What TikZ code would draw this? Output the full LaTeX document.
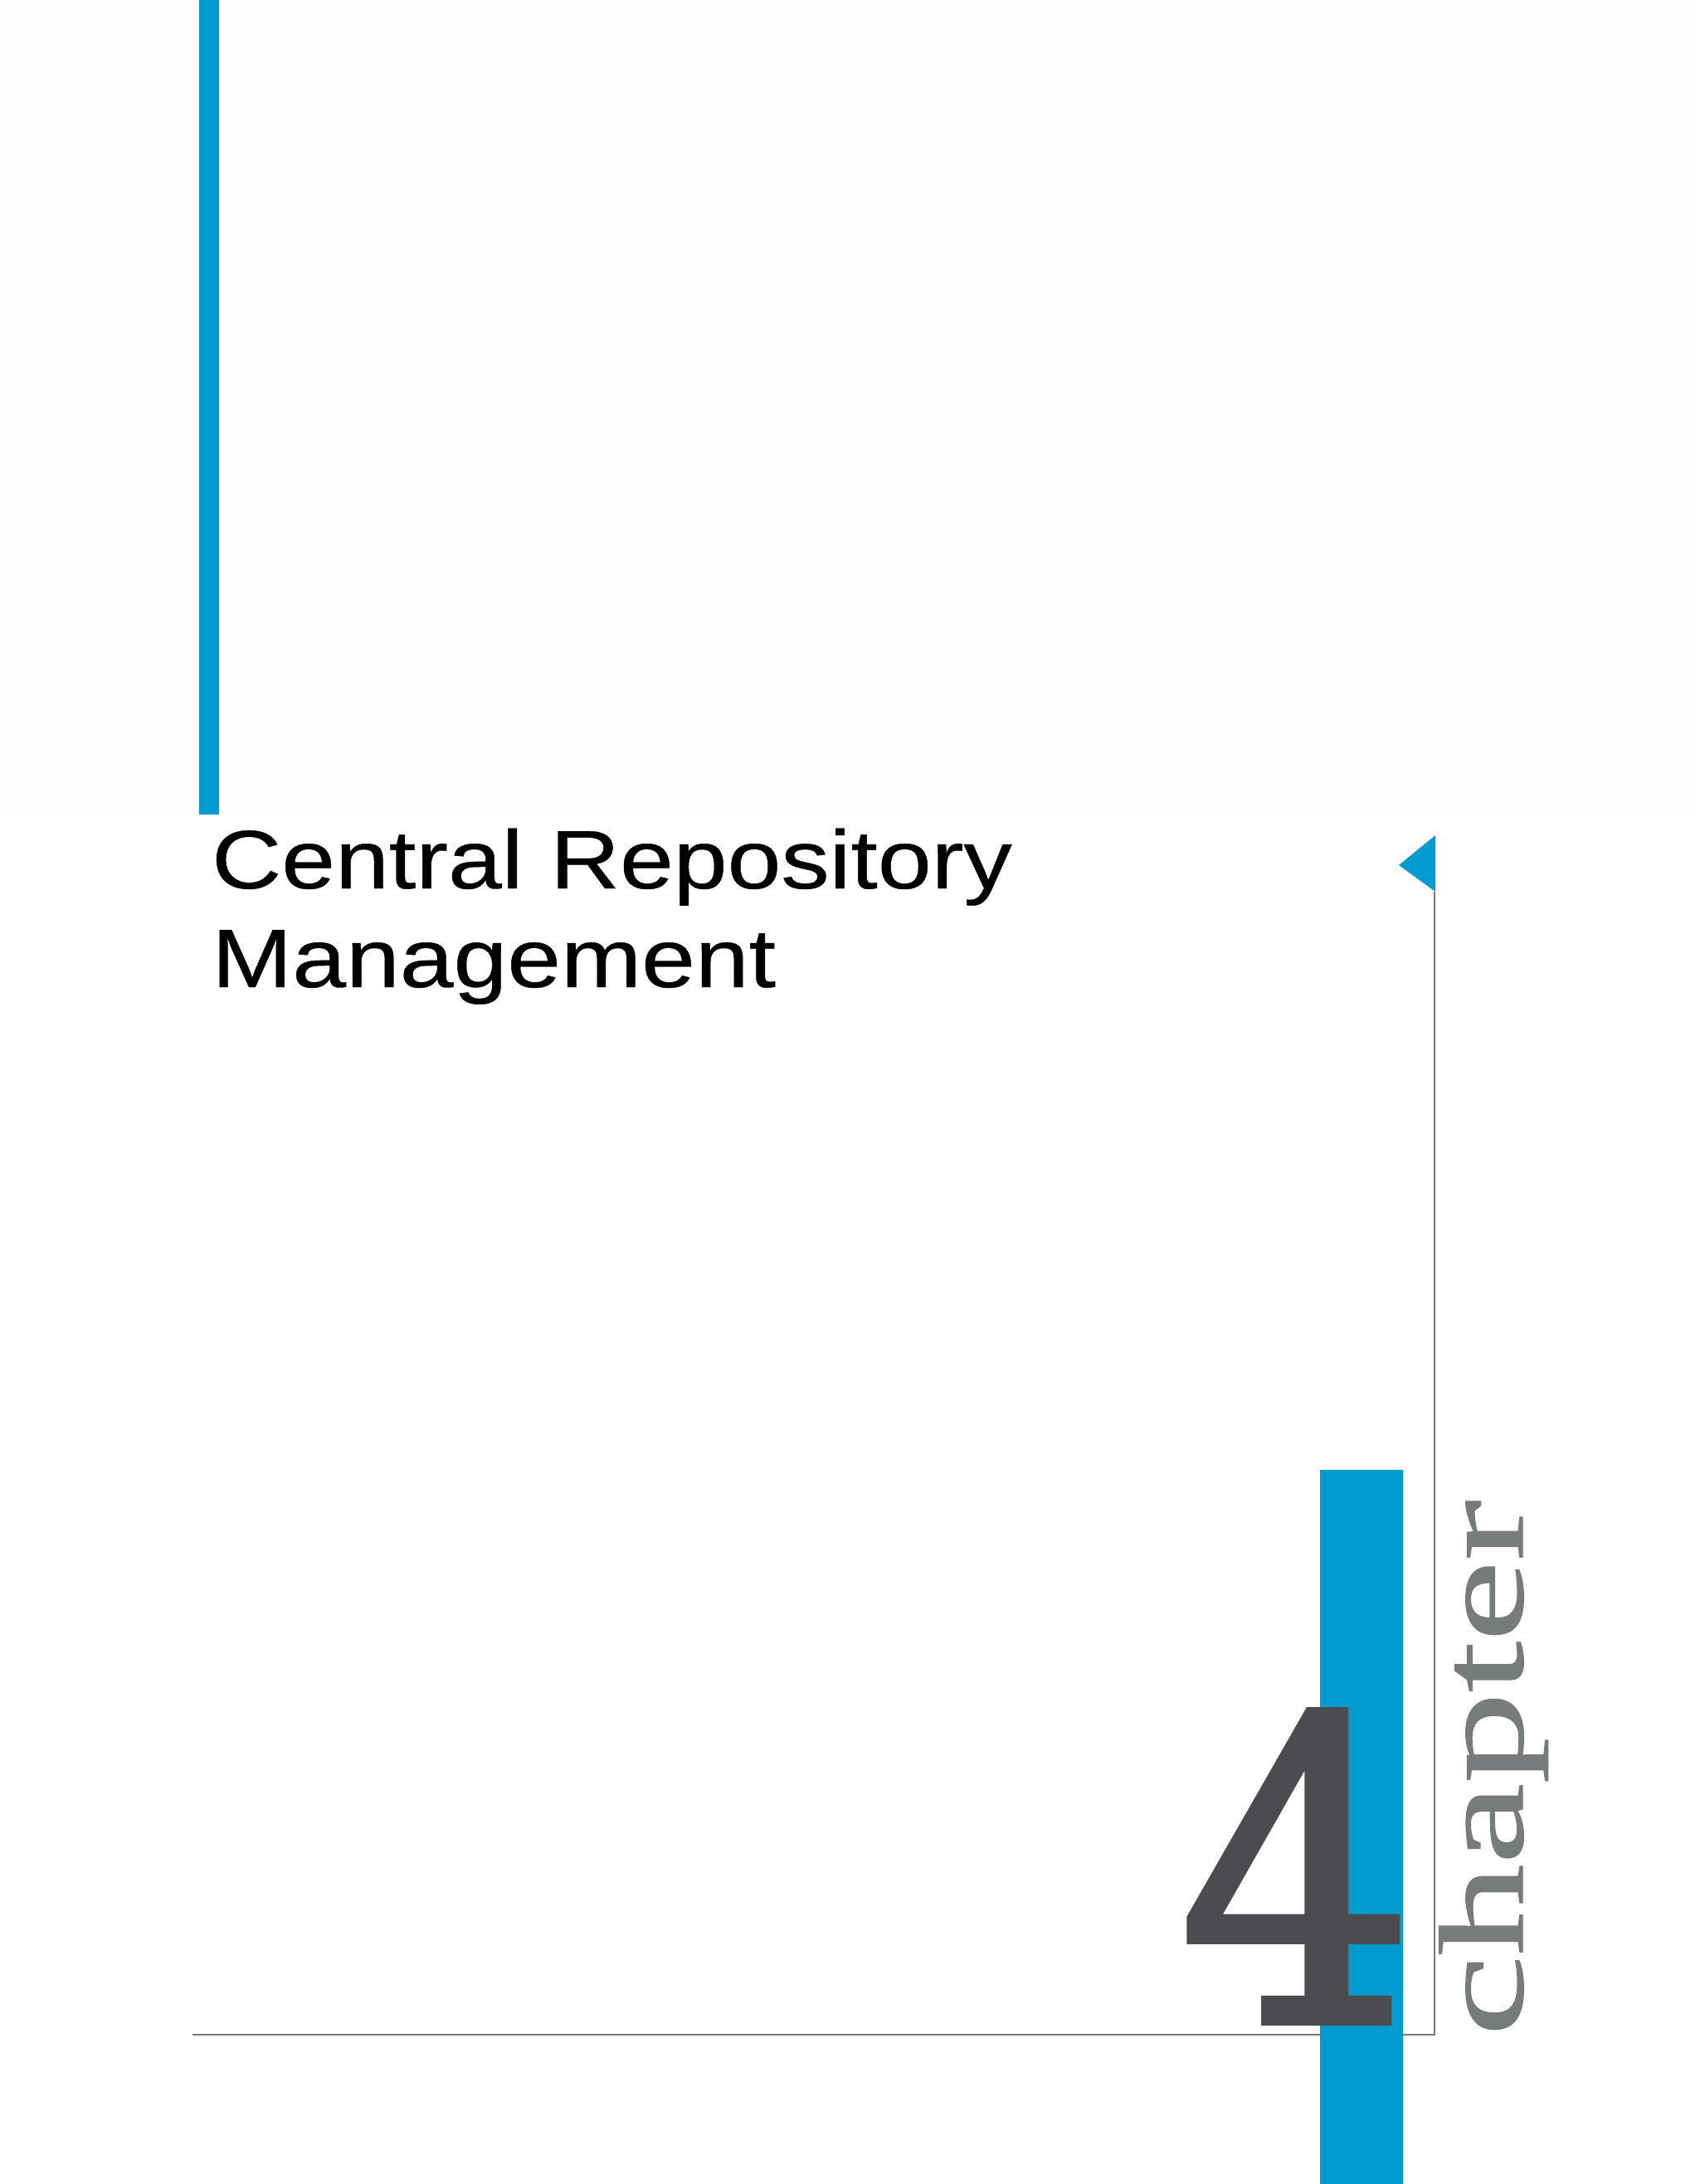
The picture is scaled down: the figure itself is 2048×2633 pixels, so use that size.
\documentclass[tikz,border=0pt]{standalone}
\usepackage{fontspec}
\usepackage{graphicx}
\setmainfont{Liberation Sans}[FakeBold=0.4]
\newfontfamily\serifface{Liberation Serif}[FakeBold=0.8]
\newfontfamily\digitface{DejaVu Serif}[FakeBold=2]
\definecolor{barblue}{HTML}{009CCF}
\definecolor{rulegray}{HTML}{77777A}
\definecolor{digitgray}{HTML}{4B4C4F}
\definecolor{wordgray}{HTML}{777B7C}
\definecolor{paper}{HTML}{FDFEFD}
\tikzset{
  titletext/.style={anchor=base west,inner sep=0pt,text=black,font=\fontsize{100}{120}\selectfont},
  rulepath/.style={draw=rulegray,line width=2.4pt},
  bluefill/.style={fill=barblue,draw=none}
}
\begin{document}
\begin{tikzpicture}[x=1pt,y=-1pt]
\useasboundingbox (0,0) rectangle (2048,2633);
\fill[white] (0,0) rectangle (2048,2633);
\fill[paper] (0,0) rectangle (2048,985);
\fill[bluefill] (240,0) rectangle (264,982);
\coordinate (ruleleft) at (232,2453);
\coordinate (rulecorner) at (1729,2453);
\coordinate (ruletop) at (1729,1075);
\draw[rulepath] (ruleleft) -- (rulecorner) -- (ruletop);
\fill[bluefill] (1591,1772) rectangle (1691,2633);
\fill[bluefill] (1686,1043) -- (1730,1007) -- (1730,1075) -- cycle;
\node[titletext] (titlea) at (255,1071) {\scalebox{1.165}[1]{Central Repository}};
\node[titletext] (titleb) at (255,1190) {\scalebox{1.165}[1]{Management}};
\node[anchor=base west,inner sep=0pt,text=digitgray] (digit) at (1421,2437) {\digitface\resizebox{283pt}{373pt}{4}};
\node[rotate=90,anchor=base west,inner sep=0pt,text=wordgray] (word) at (1835,2455) {\serifface\fontsize{145}{145}\selectfont\scalebox{1.515}[1]{chapter}};
\end{tikzpicture}
\end{document}
